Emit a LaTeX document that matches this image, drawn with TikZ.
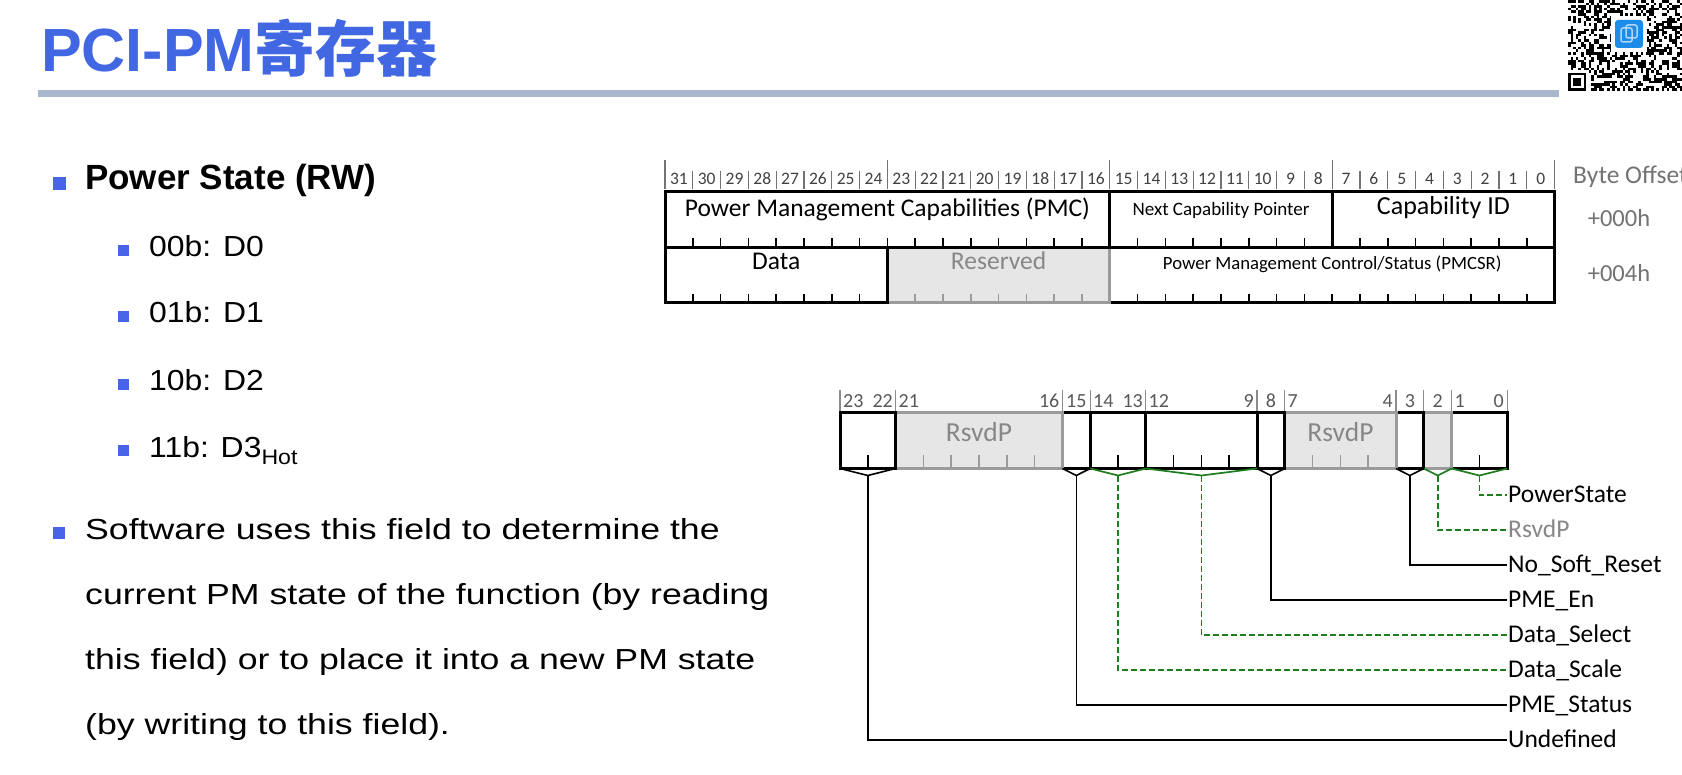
\documentclass[tikz,border=0pt]{standalone}
\usepackage{fontspec}
\setmainfont{Liberation Sans}
\newfontfamily\cjk{Noto Sans CJK SC}
\newfontfamily\regfont{Carlito}
\newfontfamily\bulfont{Liberation Sans}[FakeStretch=1.1]
\newfontfamily\parfont{Liberation Sans}[FakeStretch=1.23]
\usepackage{tikz}
\definecolor{ttlblue}{RGB}{66,103,226}
\definecolor{bulblue}{RGB}{72,100,232}
\definecolor{rulegray}{RGB}{170,182,204}
\definecolor{rsvfill}{RGB}{230,230,230}
\definecolor{rsvline}{RGB}{155,155,155}
\definecolor{rsvtext}{RGB}{135,135,135}
\definecolor{pmgreen}{RGB}{30,125,30}
\definecolor{qrblue}{RGB}{28,140,232}
\tikzstyle{fld}=[draw, line width=3pt, inner sep=0pt, outer sep=0pt, minimum height=55.5pt]
\tikzstyle{rsv}=[fld, draw=rsvline, fill=rsvfill]
\tikzstyle{tk}=[line width=1.6pt]
\tikzstyle{gtk}=[line width=1.6pt, rsvline]
\tikzstyle{sep}=[line width=1.2pt, black!55]
\tikzstyle{bitn}=[font=\regfont\fontsize{17.5}{19}\selectfont, text=black!75, anchor=base, inner sep=0pt]
\tikzstyle{lbit}=[font=\regfont\fontsize{20}{22}\selectfont, text=black!65, inner sep=0pt]
\tikzstyle{ftxt}=[font=\regfont\fontsize{25.5}{28}\selectfont, anchor=base, inner sep=0pt]
\tikzstyle{lbl}=[font=\regfont\fontsize{25.5}{28}\selectfont, anchor=west, inner xsep=1pt, inner ysep=0pt, text height=17pt, text depth=2pt]
\tikzstyle{conn}=[line width=1.6pt]
\tikzstyle{gconn}=[line width=1.7pt, pmgreen, dash pattern=on 6pt off 3pt]
\tikzstyle{bul}=[fill=bulblue]

\begin{document}
\begin{tikzpicture}[x=1pt, y=-1pt]
    \useasboundingbox (0,0) rectangle (1682,775);
    \fill[white] (0,0) rectangle (1682,775);

    % title
    \node[anchor=base west, inner sep=0pt, text=ttlblue, font=\bfseries\fontsize{61}{70}\selectfont] (ttl) at (41,72) {PCI-PM{\cjk 寄存器}};
    \fill[rulegray] (38,90) rectangle (1559,97);

    % qr code
    \foreach \i in {0,...,43} {
        \foreach \j in {0,...,34} {
            \pgfmathtruncatemacro\q{mod(\i*\i*3+\j*\j*5+mod(\i*\j,23)*7+\i*11+\j*13,17)}
            \ifnum\q<8
                \ifnum\i>7 \fill ({1568+\i*2.6},{91-(\j+1)*2.6}) rectangle ++(2.6,2.6);
                \else\ifnum\j>7 \fill ({1568+\i*2.6},{91-(\j+1)*2.6}) rectangle ++(2.6,2.6); \fi
                \fi
            \fi
        }
    }
    \fill (1568,72.8) rectangle (1586.2,91);
    \fill[white] (1570.6,75.4) rectangle (1583.6,88.4);
    \fill (1573.2,78) rectangle (1581,85.8);
    \fill[white] (1611,16) rectangle (1647,52);
    \fill[qrblue, rounded corners=3pt] (1615,20) rectangle (1643,48);
    \draw[white!65!qrblue, line width=1.5pt, rounded corners=2pt] (1621,28) rectangle (1632,42);
    \draw[white!65!qrblue, line width=1.5pt, rounded corners=2pt] (1626,25) rectangle (1637,38);

    % left text
    \fill[bul] (53,177) rectangle (66,190);
    \node[anchor=base west, inner sep=0pt, font=\bfseries\fontsize{35}{40}\selectfont] (pst0) at (85,190) {Power State (RW)};
    \foreach \t/\y [count=\i] in {00b: D0/257, 01b: D1/323, 10b: D2/391, 11b: D3\raisebox{-7pt}{\fontsize{21}{24}\selectfont Hot}/457} {
        \fill[bul] (118,\y-12) rectangle (129,\y-1);
        \node[anchor=base west, inner sep=0pt, font=\bulfont\fontsize{29}{34}\selectfont] (ps\i) at (149,\y) {\t};
    }
    \fill[bul] (53,527) rectangle (65,539);
    \foreach \t [count=\i] in {Software uses this field to determine the, current PM state of the function (by reading, this field) or to place it into a new PM state, (by writing to this field).} {
        \node[anchor=base west, inner sep=0pt, font=\parfont\fontsize{29}{34}\selectfont] (p\i) at (85,{474+65*\i}) {\t};
    }

    % upper register, bit numbers
    \foreach \k in {0,...,31} {
        \pgfmathtruncatemacro\b{31-\k}
        \node[bitn] (tb\b) at ({665+(\k+0.5)*27.8},184.5) {\b};
    }
    \foreach \k in {0,...,32} \draw[sep] ({665+\k*27.8},171) -- ({665+\k*27.8},189);
    \foreach \k in {0,8,...,32} \draw[sep] ({665+\k*27.8},160) -- ({665+\k*27.8},171);

    % upper register, fields
    \node[fld, minimum width=444.8pt] (pmcsr) at (1332.2,275.25) {};
    \node[rsv, minimum width=222.4pt] (resv) at (998.6,275.25) {};
    \node[fld, minimum width=222.4pt] (data) at (776.2,275.25) {};
    \node[fld, minimum width=222.4pt] (capid) at (1443.4,219.75) {};
    \node[fld, minimum width=222.4pt] (ncp) at (1221,219.75) {};
    \node[fld, minimum width=444.8pt] (pmc) at (887.4,219.75) {};
    \foreach \k in {1,...,15} \draw[tk] ({665+\k*27.8},247.5) -- ++(0,-9);
    \foreach \k in {17,...,23} \draw[tk] ({665+\k*27.8},247.5) -- ++(0,-9);
    \foreach \k in {25,...,31} \draw[tk] ({665+\k*27.8},247.5) -- ++(0,-9);
    \foreach \k in {1,...,7} \draw[tk] ({665+\k*27.8},303) -- ++(0,-9);
    \foreach \k in {9,...,15} \draw[gtk] ({665+\k*27.8},303) -- ++(0,-9);
    \foreach \k in {17,...,31} \draw[tk] ({665+\k*27.8},303) -- ++(0,-9);

    \node[ftxt] (tpmc) at (887.4,216.5) {Power Management Capabilities (PMC)};
    \node[ftxt, font=\regfont\fontsize{19}{22}\selectfont] (tncp) at (1221,216) {Next Capability Pointer};
    \node[ftxt, font=\regfont\fontsize{26}{29}\selectfont] (tcid) at (1443.4,215) {Capability ID};
    \node[ftxt] (tdata) at (776.2,270) {Data};
    \node[ftxt, text=rsvtext] (tresv) at (998.6,270) {Reserved};
    \node[ftxt, font=\regfont\fontsize{18.7}{22}\selectfont] (tpmcsr) at (1332.2,270) {Power Management Control/Status (PMCSR)};

    \node[anchor=base west, inner sep=0pt, text=black!55, font=\regfont\fontsize{25.5}{28}\selectfont] (boff) at (1573,184) {Byte Offset};
    \node[anchor=base, inner sep=0pt, text=black!55, font=\regfont\fontsize{24.5}{28}\selectfont] (off0) at (1619,226.7) {+000h};
    \node[anchor=base, inner sep=0pt, text=black!55, font=\regfont\fontsize{24.5}{28}\selectfont] (off4) at (1619,281.7) {+004h};

    % lower register (PMCSR)
    \foreach \x/\a/\n in {843/base west/23, 893/base east/22, 898.5/base west/21, 1059.5/base east/16, 1076.3/base/15, 1093/base west/14, 1143/base east/13, 1148.5/base west/12, 1254/base east/9, 1270.9/base/8, 1287.5/base west/7, 1393/base east/4, 1409.9/base/3, 1437.7/base/2, 1454.5/base west/1, 1504/base east/0}
        \node[lbit, anchor=\a] (lb\n) at (\x,408) {\n};
    \foreach \x in {840,895.6,1062.4,1090.2,1145.8,1257,1284.8,1396,1423.8,1451.6,1507.2}
        \draw[sep, black!45] (\x,390) -- (\x,413);

    \node[fld, minimum width=55.6pt] (ps) at (1479.4,440.75) {};
    \node[rsv, minimum width=27.8pt] (r2) at (1437.7,440.75) {};
    \node[fld, minimum width=27.8pt] (nsr) at (1409.9,440.75) {};
    \node[rsv, minimum width=111.2pt] (r74) at (1340.4,440.75) {};
    \node[fld, minimum width=27.8pt] (pen) at (1270.9,440.75) {};
    \node[fld, minimum width=111.2pt] (dsel) at (1201.4,440.75) {};
    \node[fld, minimum width=55.6pt] (dsc) at (1118,440.75) {};
    \node[fld, minimum width=27.8pt] (pst) at (1076.3,440.75) {};
    \node[rsv, minimum width=166.8pt] (r2116) at (979,440.75) {};
    \node[fld, minimum width=55.6pt] (und) at (867.8,440.75) {};
    \foreach \x in {867.8,1118,1173.6,1201.4,1229.2,1479.4} \draw[tk] (\x,468.5) -- ++(0,-13);
    \foreach \x in {923.4,951.2,979,1006.8,1034.6,1312.6,1340.4,1368.2} \draw[gtk] (\x,468.5) -- ++(0,-13);
    \node[ftxt, text=rsvtext, font=\regfont\fontsize{27.5}{30}\selectfont] (trs1) at (979,441.7) {RsvdP};
    \node[ftxt, text=rsvtext, font=\regfont\fontsize{27.5}{30}\selectfont] (trs2) at (1340.4,441.7) {RsvdP};

    % field names
    \node[lbl] (lps) at (1507,495) {PowerState};
    \node[lbl, text=rsvtext] (lrs) at (1507,530) {RsvdP};
    \node[lbl] (lnsr) at (1507,565) {No\_Soft\_Reset};
    \node[lbl] (lpen) at (1507,600) {PME\_En};
    \node[lbl] (ldsel) at (1507,635) {Data\_Select};
    \node[lbl] (ldsc) at (1507,670) {Data\_Scale};
    \node[lbl] (lpst) at (1507,705) {PME\_Status};
    \node[lbl] (lund) at (1507,740) {Undefined};

    \foreach \f/\l/\s in {ps/lps/gconn, r2/lrs/gconn, nsr/lnsr/conn, pen/lpen/conn, dsel/ldsel/gconn, dsc/ldsc/gconn, pst/lpst/conn, und/lund/conn} {
        \draw[\s, solid] (\f.south west) -- ([yshift=-7pt]\f.south) -- (\f.south east);
        \draw[\s] ([yshift=-7pt]\f.south) |- (\l.west);
    }
\end{tikzpicture}
\end{document}
